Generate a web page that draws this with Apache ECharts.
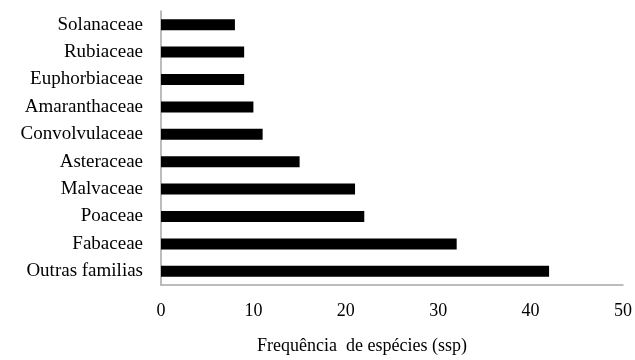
<!DOCTYPE html>
<html>
<head>
<meta charset="utf-8">
<script src="https://cdn.jsdelivr.net/npm/echarts@6/dist/echarts.min.js"></script>
<style>html,body{margin:0;padding:0;background:#fff}#c{width:635px;height:360px}</style>
</head>
<body>
<div id="c"></div>
<script>
const categories = ["Outras familias","Fabaceae","Poaceae","Malvaceae","Asteraceae","Convolvulaceae","Amaranthaceae","Euphorbiaceae","Rubiaceae","Solanaceae"];
const values = [42, 32, 22, 21, 15, 11, 10, 9, 9, 8];
const xTicks = {min: 0, max: 50, interval: 10};
const xTitle = "Frequência  de espécies (ssp)";

const font = "Liberation Serif";
const chart = echarts.init(document.getElementById('c'), null, {renderer: 'canvas'});
chart.setOption({
  animation: false,
  grid: {left: 161, right: 10, top: 11, bottom: 72, containLabel: false},
  xAxis: {
    type: 'value', min: xTicks.min, max: xTicks.max, interval: xTicks.interval,
    axisLine: {show: true, lineStyle: {color: '#a6a6a6', width: 1.5}},
    axisTick: {show: false},
    splitLine: {show: false},
    axisLabel: {color: '#000', fontFamily: font, fontSize: 18, margin: 17},
    name: xTitle, nameLocation: 'middle', nameGap: 52,
    nameTextStyle: {color: '#000', fontFamily: font, fontSize: 18, padding: [0, 60, 0, 0]}
  },
  yAxis: {
    type: 'category', data: categories,
    axisLine: {show: true, lineStyle: {color: '#a6a6a6', width: 1.5}},
    axisTick: {show: false},
    axisLabel: {color: '#000', fontFamily: font, fontSize: 19, margin: 18}
  },
  series: [{
    type: 'bar', data: values, barWidth: 11,
    itemStyle: {color: '#000'}
  }]
});
</script>
</body>
</html>
